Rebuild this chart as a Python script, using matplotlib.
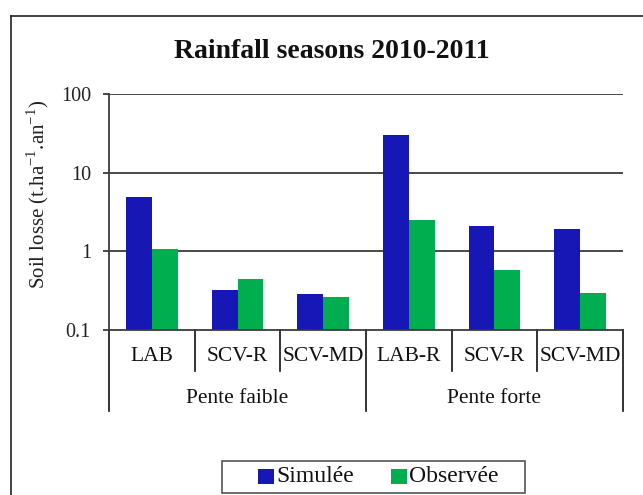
import matplotlib
matplotlib.use("Agg")
import matplotlib.pyplot as plt
from matplotlib.lines import Line2D
from matplotlib.patches import Rectangle
import numpy as np

categories = ["LAB", "SCV-R", "SCV-MD", "LAB-R", "SCV-R", "SCV-MD"]
groups = ["Pente faible", "Pente forte"]
simulee = [4.9, 0.32, 0.285, 30.0, 2.13, 1.92]
observee = [1.07, 0.447, 0.262, 2.47, 0.575, 0.294]
series_names = ["Simulée", "Observée"]
yticks = [0.1, 1, 10, 100]
ytick_labels = ["0.1", "1", "10", "100"]

BLUE = "#1717B6"
GREEN = "#00AD4F"
GRID = "#3a3a3a"
INK = "#111111"

plt.rcParams["font.family"] = ["Liberation Serif", "DejaVu Serif"]
plt.rcParams["mathtext.fontset"] = "custom"
plt.rcParams["mathtext.rm"] = "Liberation Serif"

W, H = 643, 495
fig = plt.figure(figsize=(W / 100, H / 100), dpi=100)


def fx(px):
    return px / W


def fy(py):
    return 1 - py / H


# outer chart frame (top and left edges visible)
fig.add_artist(Line2D([fx(11), fx(11)], [0, fy(16)], color="#222222", lw=1.2))
fig.add_artist(Line2D([fx(11), 1], [fy(16), fy(16)], color="#222222", lw=1.2))

ax = fig.add_axes([fx(109), fy(330), (623 - 109) / W, (330 - 94) / H])
ax.set_yscale("log")
ax.set_ylim(0.1, 100)
ax.set_xlim(0, len(categories))

x = np.arange(len(categories)) + 0.5
bw = 0.3
bars_s = ax.bar(x - bw / 2, simulee, width=bw, color=BLUE, zorder=3)
bars_o = ax.bar(x + bw / 2, observee, width=bw, color=GREEN, zorder=3)

for v in yticks[1:]:
    ax.axhline(v, color=GRID, lw=1.3, zorder=1)

for s in ["top", "right", "bottom"]:
    ax.spines[s].set_visible(False)
ax.spines["left"].set_color(GRID)
ax.spines["left"].set_linewidth(1.3)
ax.axhline(0.1, color=GRID, lw=1.3, zorder=4, clip_on=False)

ax.set_yticks(yticks)
ax.set_yticklabels(ytick_labels)
ax.yaxis.set_minor_locator(matplotlib.ticker.NullLocator())
ax.tick_params(axis="y", length=4, width=1.3, color=GRID, pad=9, labelsize=14.5, labelcolor="#222222")
ax.set_xticks([])

trans = ax.get_xaxis_transform()
# category separators below the axis
for k in range(len(categories) + 1):
    bottom = -0.345 if k in (0, 3, 6) else -0.175
    ax.plot([k, k], [0, bottom], transform=trans, color=INK, lw=1.2, clip_on=False)
for xi, lab in zip(x, categories):
    ax.text(xi, -0.114, lab, transform=trans, ha="center", va="center", fontsize=15.5, color=INK)
for gi, g in enumerate(groups):
    ax.text(1.5 + 3 * gi, -0.29, g, transform=trans, ha="center", va="center", fontsize=15.5, color=INK)

fig.text(fx(332), fy(51), "Rainfall seasons 2010-2011", ha="center", va="center",
         fontsize=20, fontweight="bold", color=INK)

fig.text(fx(38), fy(194), r"Soil losse (t.ha$^{\mathregular{-1}}$.an$^{\mathregular{-1}}$)", rotation=90,
         ha="center", va="center", fontsize=15, color="#222222")

# legend box
fig.add_artist(Rectangle((fx(222), fy(493)), (525 - 222) / W, (493 - 461) / H, transform=fig.transFigure,
                         facecolor="white", edgecolor="#555555", lw=1.2))
entries = [(bars_s, series_names[0], 258), (bars_o, series_names[1], 391)]
for handle, name, x0 in entries:
    color = handle.patches[0].get_facecolor()
    fig.add_artist(Rectangle((fx(x0), fy(484)), 16 / W, 15 / H, transform=fig.transFigure,
                             facecolor=color, edgecolor="none"))
    fig.text(fx(x0 + 18), fy(477), name, ha="left", va="center", fontsize=17, color=INK)

fig.savefig("out.png", dpi=100, facecolor="white")
